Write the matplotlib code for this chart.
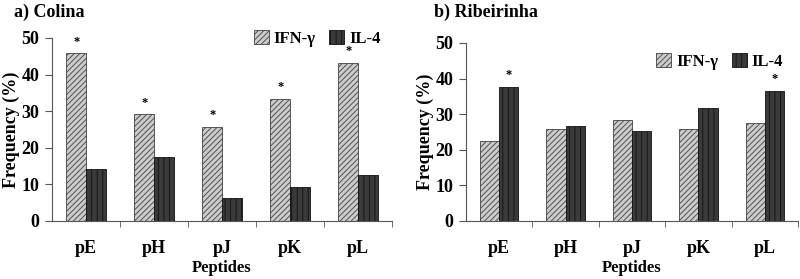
import matplotlib.pyplot as plt
from matplotlib.patches import Patch

plt.rcParams['font.family'] = 'Liberation Serif'
plt.rcParams['font.weight'] = 'bold'
plt.rcParams['hatch.linewidth'] = 0.6

peptides = ['pE', 'pH', 'pJ', 'pK', 'pL']

# a) Colina
colina_ifn = [45.8, 29.2, 25.8, 33.4, 43.2]
colina_il4 = [14.2, 17.4, 6.4, 9.4, 12.6]
colina_star_ifn = [True, True, True, True, True]
colina_star_il4 = [False, False, False, False, False]

# b) Ribeirinha
rib_ifn = [22.5, 25.9, 28.4, 25.7, 27.6]
rib_il4 = [37.7, 26.7, 25.2, 31.6, 36.6]
rib_star_ifn = [False, False, False, False, False]
rib_star_il4 = [True, False, False, False, True]

ifn_face = '#cbcbcb'
il4_face = '#3a3a3a'
w = 0.29

fig = plt.figure(figsize=(8, 2.79), dpi=100)
ax1 = fig.add_axes([0.065, 0.208, 0.425, 0.656])
ax2 = fig.add_axes([0.5825, 0.208, 0.415, 0.638])


def draw(ax, ifn, il4, s_ifn, s_il4, title, tx, leg_anchor):
    x = list(range(len(peptides)))
    ax.bar([i - w / 2 for i in x], ifn, w, color=ifn_face, edgecolor='#404040',
           hatch='//////', linewidth=0.6)
    ax.bar([i + w / 2 for i in x], il4, w, color=il4_face, edgecolor='#111111',
           hatch='|||', linewidth=0.6)
    for i in x:
        if s_ifn[i]:
            ax.text(i - w / 2, ifn[i] + 1.5, '*', ha='center', va='bottom', fontsize=9)
        if s_il4[i]:
            ax.text(i + w / 2, il4[i] + 1.5, '*', ha='center', va='bottom', fontsize=9)
    ax.set_xlim(-0.5, 4.5)
    ax.set_ylim(0, 50)
    ax.set_yticks([0, 10, 20, 30, 40, 50])
    ax.set_xticks(x)
    ax.set_xticklabels(peptides)
    ax.set_xticks([0.5, 1.5, 2.5, 3.5, 4.5], minor=True)
    ax.tick_params(axis='x', which='major', length=0, pad=14, labelsize=13)
    ax.tick_params(axis='x', which='minor', length=4, direction='out', color='#555555')
    ax.tick_params(axis='y', length=5, color='#555555', labelsize=13, pad=4)
    for lab in ax.get_xticklabels() + ax.get_yticklabels():
        lab.set_fontweight('bold')
    ax.spines['top'].set_visible(False)
    ax.spines['right'].set_visible(False)
    ax.spines['left'].set_color('#555555')
    ax.spines['bottom'].set_color('#555555')
    ax.set_xlabel('Peptides', fontsize=12, fontweight='bold', labelpad=2)
    ax.set_ylabel('Frequency (%)', fontsize=13, fontweight='bold', labelpad=1)
    fig.text(tx, 0.985, title, ha='left', va='top', fontsize=13, fontweight='bold')
    handles = [Patch(facecolor=ifn_face, edgecolor='#404040', hatch='//////', linewidth=0.6),
               Patch(facecolor=il4_face, edgecolor='#111111', hatch='|||', linewidth=0.6)]
    ax.legend(handles, ['IFN-γ', 'IL-4'], ncol=2, frameon=False, loc='upper right',
              bbox_to_anchor=leg_anchor, prop={'weight': 'bold', 'size': 12},
              handlelength=0.9, handleheight=0.9, handletextpad=0.3, columnspacing=0.8)


draw(ax1, colina_ifn, colina_il4, colina_star_ifn, colina_star_il4, 'a) Colina', 0.018, (1.01, 1.125))
draw(ax2, rib_ifn, rib_il4, rib_star_ifn, rib_star_il4, 'b) Ribeirinha', 0.542, (1.0, 1.027))

fig.savefig('out.png', dpi=100)
